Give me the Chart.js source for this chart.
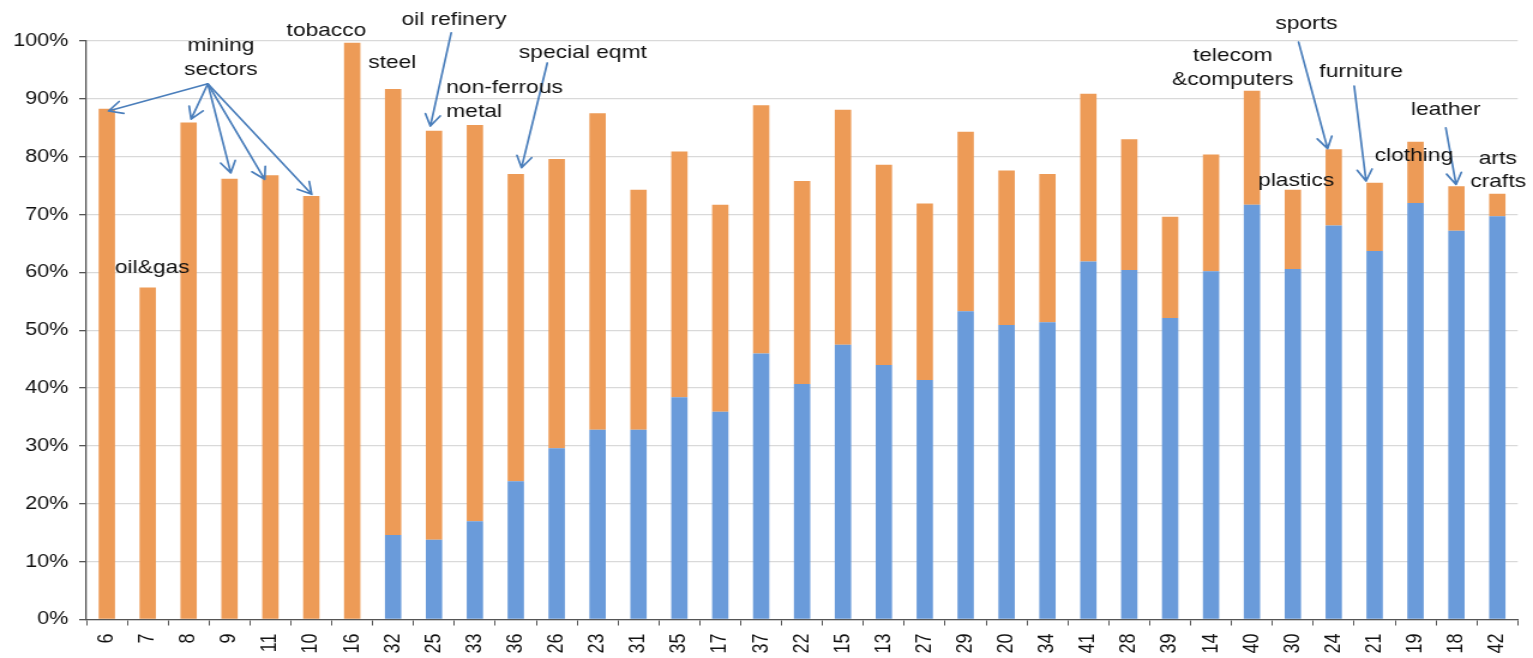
<!DOCTYPE html>
<html>
<head>
<meta charset="utf-8">
<script src="https://cdn.jsdelivr.net/npm/chart.js@4"></script>
<style>
  html, body { margin: 0; padding: 0; background: #fff; overflow: hidden; }
  #chart { display: block; }
</style>
</head>
<body>
<!-- the reference is a horizontally stretched picture, so the canvas is drawn narrow and stretched -->
<canvas id="chart" width="1278" height="658" style="width:1533px;height:658px"></canvas>
<script>
let sectors = ["6", "7", "8", "9", "11", "10", "16", "32", "25", "33", "36", "26", "23", "31", "35", "17", "37", "22", "15", "13", "27", "29", "20", "34", "41", "28", "39", "14", "40", "30", "24", "21", "19", "18", "42"];

// total height of each bar (%)
let totalShare = [88.3, 57.4, 85.9, 76.2, 76.8, 73.2, 99.7, 91.7, 84.5, 85.5, 77.0, 79.6, 87.5, 74.3, 80.9, 71.7, 88.9, 75.8, 88.1, 78.6, 71.9, 84.3, 77.6, 77.0, 90.9, 83.0, 69.6, 80.4, 91.4, 74.3, 81.3, 75.5, 82.6, 74.9, 73.6];

// blue lower part of each bar (%)
let blueShare = [0, 0, 0, 0, 0, 0, 0, 14.6, 13.8, 17.0, 23.9, 29.6, 32.8, 32.8, 38.4, 35.9, 46.0, 40.7, 47.5, 44.0, 41.4, 53.3, 50.9, 51.4, 61.9, 60.4, 52.1, 60.2, 71.7, 60.6, 68.1, 63.7, 72.0, 67.2, 69.7];

let orangeShare = totalShare.map((t, i) => +(t - blueShare[i]).toFixed(1));

let yTicks = [0, 10, 20, 30, 40, 50, 60, 70, 80, 90, 100];

// labels: [text, category index, value %, align]
let notes = [
    ["mining", 2.79, 99.1, "center"],
    ["sectors", 2.79, 95.0, "center"],
    ["oil&gas", 1.11, 60.8, "center"],
    ["tobacco", 5.37, 101.8, "center"],
    ["steel", 6.98, 96.2, "center"],
    ["oil refinery", 8.49, 103.6, "center"],
    ["non-ferrous", 8.30, 92.0, "left"],
    ["metal", 8.30, 87.8, "left"],
    ["special eqmt", 11.64, 98.0, "center"],
    ["telecom", 27.53, 97.4, "center"],
    ["&computers", 27.53, 93.3, "center"],
    ["sports", 29.33, 103.0, "center"],
    ["furniture", 30.67, 94.6, "center"],
    ["leather", 32.74, 88.1, "center"],
    ["clothing", 31.96, 80.1, "center"],
    ["plastics", 29.08, 75.9, "center"],
    ["arts", 34.01, 79.7, "center"],
    ["crafts", 34.02, 75.6, "center"]
];

// arrows: [from index, from value, to index, to value]
let arrows = [
    [2.47, 92.6, 0.04, 87.9],
    [2.47, 92.6, 2.06, 86.5],
    [2.47, 92.6, 3.03, 77.2],
    [2.47, 92.6, 3.86, 76.1],
    [2.47, 92.6, 5.01, 73.5],
    [8.42, 101.4, 7.91, 85.3],
    [10.77, 96.2, 10.14, 78.1],
    [29.14, 99.8, 29.85, 81.4],
    [30.50, 92.2, 30.79, 75.8],
    [32.74, 85.0, 32.99, 75.2]
];

const fontFamily = "'Liberation Sans', Arial, sans-serif";

function drawArrow(ctx, x1, y1, x2, y2) {
    let angle = Math.atan2(y2 - y1, x2 - x1);
    let head = 13;
    ctx.beginPath();
    ctx.moveTo(x1, y1);
    ctx.lineTo(x2, y2);
    ctx.moveTo(x2 - head * Math.cos(angle - 0.5), y2 - head * Math.sin(angle - 0.5));
    ctx.lineTo(x2, y2);
    ctx.lineTo(x2 - head * Math.cos(angle + 0.5), y2 - head * Math.sin(angle + 0.5));
    ctx.stroke();
}

const notesPlugin = {
    id: "notes",
    afterDraw(chart) {
        let ctx = chart.ctx;
        let xs = chart.scales.x;
        let ys = chart.scales.y;
        ctx.save();
        ctx.strokeStyle = "#4a7ebb";
        ctx.lineWidth = 1.7;
        ctx.lineCap = "round";
        ctx.lineJoin = "round";
        arrows.forEach(a => {
            drawArrow(ctx, xs.getPixelForValue(a[0]), ys.getPixelForValue(a[1]),
                xs.getPixelForValue(a[2]), ys.getPixelForValue(a[3]));
        });
        ctx.fillStyle = "#111";
        ctx.font = "19px " + fontFamily;
        ctx.textBaseline = "middle";
        notes.forEach(n => {
            ctx.textAlign = n[3];
            ctx.fillText(n[0], xs.getPixelForValue(n[1]), ys.getPixelForValue(n[2]));
        });
        ctx.restore();
    }
};

new Chart(document.getElementById("chart"), {
    type: "bar",
    data: {
        labels: sectors,
        datasets: [
            {
                label: "blue",
                data: blueShare,
                backgroundColor: "#6a9bda",
                categoryPercentage: 1,
                barPercentage: 0.4
            },
            {
                label: "orange",
                data: orangeShare,
                backgroundColor: "#ed9b57",
                categoryPercentage: 1,
                barPercentage: 0.4
            }
        ]
    },
    options: {
        responsive: false,
        animation: false,
        devicePixelRatio: 1,
        layout: { padding: { top: 41, right: 10, left: 0, bottom: 0 } },
        plugins: {
            legend: { display: false },
            tooltip: { enabled: false }
        },
        scales: {
            x: {
                stacked: true,
                grid: { drawOnChartArea: false, tickLength: 6, tickColor: "#555", offset: true },
                border: { color: "#555", width: 1.3 },
                ticks: {
                    minRotation: 90,
                    maxRotation: 90,
                    autoSkip: false,
                    padding: 8,
                    color: "#111",
                    font: { size: 18, family: fontFamily }
                },
                afterFit(scale) { scale.height = 38.5; }
            },
            y: {
                stacked: true,
                min: 0,
                max: 100,
                afterBuildTicks(scale) { scale.ticks = yTicks.map(v => ({ value: v })); },
                grid: { color: "#d9d9d9", lineWidth: 1.3, tickLength: 6, tickColor: "#555" },
                border: { color: "#555", width: 1.3 },
                ticks: {
                    padding: 9,
                    color: "#111",
                    font: { size: 18, family: fontFamily },
                    callback: v => v + "%"
                },
                afterFit(scale) { scale.width = 72; }
            }
        }
    },
    plugins: [notesPlugin]
});
</script>
</body>
</html>
